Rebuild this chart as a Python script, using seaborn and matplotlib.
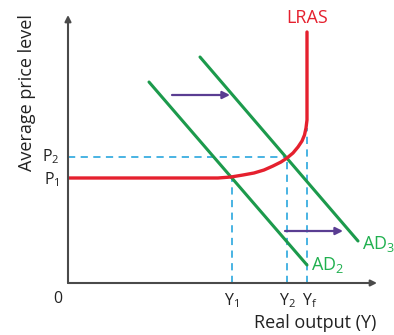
import numpy as np
import pandas as pd
import seaborn as sns
import matplotlib.pyplot as plt

# Chart values (arbitrary units, origin at 0,0)
p1, p2 = 105, 126
y1, y2, yf = 164, 219, 239

lras_x = [0, 150, 163, 175, 186, 196, 205, 213, 219, 225, 230, 234, 236.5, 238, 239, 239]
lras_y = [105, 105, 106, 108, 110, 113, 117, 121, 125, 130, 136, 142, 148, 155, 163, 251]

ad2_x = [81, 239]
ad2_y = [201, 18]
ad3_x = [132, 290]
ad3_y = [226, 42]

shift_top = [(104, 188), (162, 188)]
shift_low = [(217, 52), (275, 52)]

red = '#e5202e'
green = '#1c9a4c'
green_txt = '#20b04f'
blue = '#3aaee0'
purple = '#5a3d92'
axcol = '#4a4a4a'

sns.set_style('white')
plt.rcParams['font.family'] = ['Open Sans', 'DejaVu Sans']

fig = plt.figure(figsize=(3.94, 3.35), dpi=100)
ax = fig.add_axes([68 / 394, 52 / 335, 309 / 394, 268 / 335])
ax.set_xlim(0, 309)
ax.set_ylim(0, 268)
ax.axis('off')

# axes with arrows
for end in [(309, 0), (0, 268)]:
    ax.annotate('', xy=end, xytext=(0, 0),
                arrowprops=dict(arrowstyle='-|>', color=axcol, lw=1.5, mutation_scale=9,
                                shrinkA=0, shrinkB=0),
                annotation_clip=False)

# dashed guides
dash = dict(color=blue, lw=1.3, ls=(0, (4, 3)))
ax.plot([0, y2], [p2, p2], **dash)
ax.plot([y1, y1], [0, p1], **dash)
ax.plot([y2, y2], [0, p2], **dash)
ax.plot([yf, yf], [0, 155], **dash)

# curves
sns.lineplot(x=ad2_x, y=ad2_y, ax=ax, color=green, lw=2.2, sort=False, estimator=None)
sns.lineplot(x=ad3_x, y=ad3_y, ax=ax, color=green, lw=2.2, sort=False, estimator=None)
sns.lineplot(x=lras_x, y=lras_y, ax=ax, color=red, lw=2.4, sort=False, estimator=None)

for (x0, yy0), (x1, yy1) in [shift_top, shift_low]:
    ax.annotate('', xy=(x1, yy1), xytext=(x0, yy0),
                arrowprops=dict(arrowstyle='-|>', color=purple, lw=1.6, mutation_scale=11,
                                shrinkA=0, shrinkB=0))

# labels
fs = 13
dark = '#222222'
ax.text(yf, 256, 'LRAS', color=red, fontsize=fs, ha='center', va='bottom', clip_on=False)
ax.text(243, 18, r'AD$\mathregular{_2}$', color=green_txt, fontsize=fs, ha='left', va='center', clip_on=False)
ax.text(294, 39, r'AD$\mathregular{_3}$', color=green_txt, fontsize=fs, ha='left', va='center', clip_on=False)
ax.text(y1, -8, r'Y$\mathregular{_1}$', color=dark, fontsize=11.5, ha='center', va='top', clip_on=False)
ax.text(y2, -8, r'Y$\mathregular{_2}$', color=dark, fontsize=11.5, ha='center', va='top', clip_on=False)
ax.text(yf + 3, -8, r'Y$\mathregular{_f}$', color=dark, fontsize=11.5, ha='center', va='top', clip_on=False)
ax.text(-10, -8, '0', color=dark, fontsize=11.5, ha='center', va='top', clip_on=False)
ax.text(-8, p2, r'P$\mathregular{_2}$', color=dark, fontsize=11.5, ha='right', va='center', clip_on=False)
ax.text(-8, p1 - 2, r'P$\mathregular{_1}$', color=dark, fontsize=11.5, ha='right', va='center', clip_on=False)
ax.text(-41, 190, 'Average price level', color=dark, fontsize=fs, rotation=90,
        ha='center', va='center', clip_on=False)
ax.text(247, -40, 'Real output (Y)', color=dark, fontsize=fs, ha='center', va='center', clip_on=False)

fig.savefig('out.png', dpi=100)
